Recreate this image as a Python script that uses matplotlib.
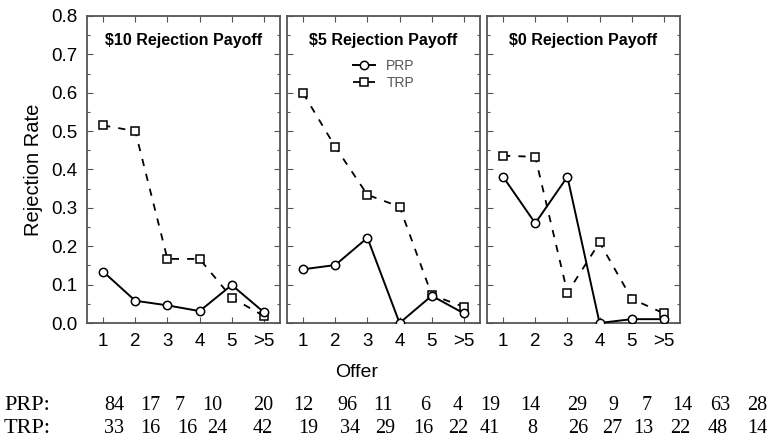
import matplotlib
matplotlib.use("Agg")
import matplotlib.pyplot as plt
from matplotlib.ticker import MultipleLocator

# ---- data ----
offers = ["1", "2", "3", "4", "5", ">5"]
titles = ["$10 Rejection Payoff", "$5 Rejection Payoff", "$0 Rejection Payoff"]
prp_10 = [0.134, 0.058, 0.046, 0.031, 0.099, 0.028]
trp_10 = [0.515, 0.500, 0.167, 0.167, 0.066, 0.018]
prp_5 = [0.140, 0.151, 0.222, 0.000, 0.071, 0.025]
trp_5 = [0.599, 0.459, 0.334, 0.303, 0.073, 0.042]
prp_0 = [0.381, 0.260, 0.381, 0.000, 0.010, 0.010]
trp_0 = [0.436, 0.433, 0.079, 0.210, 0.063, 0.025]
prp_n = [84, 17, 7, 10, 20, 12, 96, 11, 6, 4, 19, 14, 29, 9, 7, 14, 63, 28]
trp_n = [33, 16, 16, 24, 42, 19, 34, 29, 16, 22, 41, 8, 26, 27, 13, 22, 48, 14]
y_ticks = [0.0, 0.1, 0.2, 0.3, 0.4, 0.5, 0.6, 0.7, 0.8]

# ---- layout (pixels) ----
W, H = 772, 444
prp_xpix = [114, 150, 180, 212, 263, 303, 347, 383, 425, 458, 490, 530, 577, 613, 647, 682, 720, 757]
trp_xpix = [114, 150, 187, 217, 263, 308, 350, 385, 423, 458, 490, 532, 578, 612, 643, 680, 718, 757]
panel_left = [87, 287, 487]
panel_w = 193
panel_top, panel_bot = 16, 323

plt.rcParams['font.family'] = ['Liberation Sans', 'DejaVu Sans']
fig = plt.figure(figsize=(W / 100, H / 100), dpi=100)

spine_c = '#555555'
series = [(prp_10, trp_10), (prp_5, trp_5), (prp_0, trp_0)]
xs = list(range(1, len(offers) + 1))
axes = []
for i, (prp, trp) in enumerate(series):
    ax = fig.add_axes([panel_left[i] / W, (H - panel_bot) / H,
                       panel_w / W, (panel_bot - panel_top) / H])
    axes.append(ax)
    ax.plot(xs, trp, color='black', lw=1.3, ls=(0, (4, 4.5)), marker='s',
            ms=6, mfc='white', mec='black', mew=1.1, label='TRP', zorder=3)
    ax.plot(xs, prp, color='black', lw=1.4, ls='-', marker='o',
            ms=6, mfc='white', mec='black', mew=1.1, label='PRP', zorder=4)
    ax.set_xlim(0.5, 6.5)
    ax.set_ylim(0, 0.8)
    ax.set_xticks(xs)
    ax.set_xticklabels(offers, fontsize=13.5)
    ax.set_yticks(y_ticks)
    ax.yaxis.set_minor_locator(MultipleLocator(0.05))
    ax.tick_params(axis='both', which='both', direction='in', top=True, right=True,
                   color=spine_c, width=0.8)
    ax.tick_params(axis='both', which='major', length=4, pad=7)
    ax.tick_params(axis='y', which='minor', length=2)
    for s in ax.spines.values():
        s.set_color(spine_c)
        s.set_linewidth(1.3)
    if i == 0:
        ax.set_yticklabels([f"{v:.1f}" for v in y_ticks], fontsize=13.5)
        ax.set_ylabel("Rejection Rate", fontsize=14.5, labelpad=6)
    else:
        ax.tick_params(axis='y', labelleft=False)
    ax.text(0.5, (panel_bot - 41) / (panel_bot - panel_top), titles[i],
            transform=ax.transAxes, ha='center', va='center',
            fontsize=11.5, fontweight='bold')

# legend in the middle panel
h, l = axes[1].get_legend_handles_labels()
axes[1].legend([h[1], h[0]], [l[1], l[0]], loc='upper left',
               bbox_to_anchor=((346 - panel_left[1]) / panel_w, (panel_bot - 52) / (panel_bot - panel_top)),
               frameon=False, fontsize=10, borderpad=0, handlelength=1.6,
               handletextpad=0.8, labelspacing=0.2, labelcolor='#555555')

fig.text(357 / W, 1 - 372 / H, "Offer", ha='center', va='center', fontsize=14)

# counts below
serif = ['Liberation Serif', 'DejaVu Serif']
fig.text(4 / W, 1 - 405 / H, "PRP:", ha='left', va='center', fontsize=16, family=serif)
fig.text(4 / W, 1 - 428 / H, "TRP:", ha='left', va='center', fontsize=16, family=serif)
for xp, n in zip(prp_xpix, prp_n):
    fig.text(xp / W, 1 - 405 / H, str(n), ha='center', va='center', fontsize=14.5, family=serif)
for xp, n in zip(trp_xpix, trp_n):
    fig.text(xp / W, 1 - 428 / H, str(n), ha='center', va='center', fontsize=14.5, family=serif)

fig.savefig("out.png", dpi=100)
